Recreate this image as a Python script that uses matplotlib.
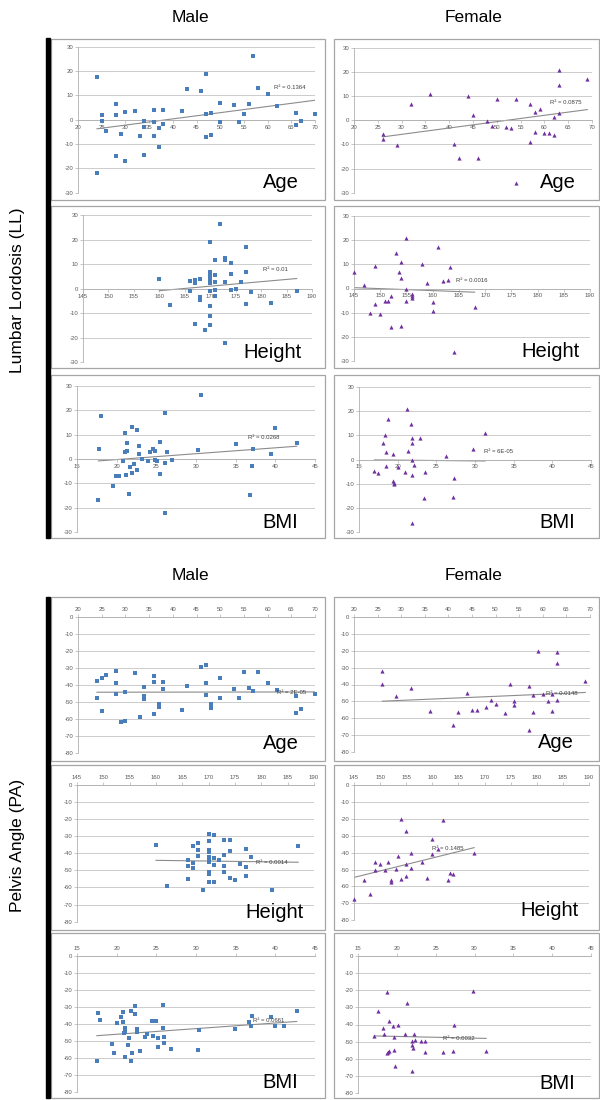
import numpy as np
import matplotlib.pyplot as plt
from matplotlib.patches import Rectangle

plt.rcParams['font.family'] = ['Liberation Sans', 'DejaVu Sans']
plt.rcParams['axes.unicode_minus'] = False

# ---- Lumbar Lordosis (LL) ----
ll_m_age_x = [24, 24, 25, 25, 26, 28, 28, 28, 29, 30, 30, 32, 33, 34, 34, 34, 36, 36, 36, 37, 37, 38, 38,
              42, 43, 46, 47, 47, 47, 48, 48, 50, 50, 53, 54, 55, 56, 57, 58, 60, 62, 66, 66, 67, 70]
ll_m_age_y = [17.5, -21.9, 2.1, -0.4, -4.8, 6.6, 1.8, -14.9, -5.8, 3.0, -17.0, 3.7, -6.7, -0.7, -3.2, -14.4,
              4.0, -0.8, -6.8, -3.3, -11.2, 4.0, -1.6, 3.4, 12.5, 11.6, 18.8, 2.5, -7.1, 2.6, -6.3, 6.8, -1.0,
              6.0, -1.0, 2.3, 6.6, 26.2, 12.9, 10.5, 5.5, 2.7, -2.3, -0.7, 2.5]

ll_f_age_x = [26, 26, 29, 32, 36, 41, 42, 44, 45, 46, 48, 49, 50, 52, 53, 54, 54, 57, 57, 58, 58, 59, 60,
              61, 62, 62, 63, 63, 63, 69]
ll_f_age_y = [-5.5, -7.9, -10.4, 6.9, 10.9, -10.0, -15.8, 10.0, 2.2, -15.5, -0.4, -2.4, 8.7, -2.9, -3.2,
              8.7, -26.0, 6.8, -9.0, 3.5, -5.0, 4.6, -5.1, -5.1, 1.4, -6.2, 20.9, 14.7, 2.9, 17.0]

ll_m_ht_x = [160, 162, 166, 166, 167, 167, 167, 168, 168, 168, 169, 170, 170, 170, 170, 170, 170, 170, 170,
             170, 170, 171, 171, 171, 171, 171, 172, 173, 173, 173, 173, 174, 174, 174, 175, 176, 177, 177,
             177, 178, 182, 187]
ll_m_ht_y = [3.8, -6.7, 3.0, -0.8, 3.6, 2.2, -14.5, 4.0, -3.3, -4.6, -16.9, 19.0, 6.7, 5.7, 4.6, 3.4, 2.3,
             -0.8, -7.0, -11.2, -15.0, 11.7, 5.6, 2.9, -0.7, -3.0, 26.3, 12.4, 11.7, 2.7, -22.2, 10.6, 6.0,
             -0.5, -0.3, 2.6, 17.0, 7.0, -6.3, -1.5, -5.7, -0.8]

ll_f_ht_x = [145, 147, 148, 149, 149, 150, 151, 151.4, 152, 152, 153, 153.5, 154, 154, 154, 155, 155, 155,
             156, 156, 156, 158, 159, 160, 160, 161, 162, 163, 163.3, 164, 168]
ll_f_ht_y = [6.7, 1.5, -9.9, 9.1, -6.3, -10.6, -5.1, -5.2, -3.0, -15.7, 14.7, 7.0, 11.0, 4.4, -15.4, 20.9,
             -0.1, -5.0, -2.3, -3.2, -4.0, 9.9, 2.2, -5.6, -9.1, 17.0, 2.9, 3.4, 8.8, -26.3, -7.8]

ll_m_bmi_x = [17.8, 18.0, 17.7, 19.5, 19.9, 20.3, 20.8, 21.0, 21.0, 21.2, 21.3, 21.3, 21.7, 21.9, 21.9, 22.2,
              22.5, 22.6, 22.8, 22.8, 23.2, 21.6, 23.9, 24.2, 24.6, 24.8, 24.8, 25.1, 25.4, 25.4, 26.1, 26.1,
              26.1, 26.3, 27.0, 30.3, 30.6, 35.0, 37.0, 36.8, 37.2, 39.5, 40.0, 42.7]
ll_m_bmi_y = [4.0, 17.7, -16.8, -11.1, -6.8, -7.0, -0.7, 10.7, 2.7, -6.6, 6.7, 3.1, -3.2, 13.0, -5.6, -2.2,
              11.8, -4.5, 5.5, 1.9, -0.1, -14.4, -0.7, 2.7, 4.1, 3.2, -0.5, -0.8, 6.8, -6.3, 18.9, -1.5,
              -22.0, 2.7, -0.4, 3.6, 26.4, 6.2, -3.0, -14.8, 4.0, 2.2, 12.6, 6.6]

ll_f_bmi_x = [17.0, 17.5, 18.1, 18.3, 18.5, 18.5, 18.8, 19.4, 19.4, 19.5, 19.5, 20.0, 20.9, 21.2, 21.4, 21.7,
              21.8, 21.9, 21.9, 21.9, 22.1, 21.8, 22.9, 23.4, 23.5, 26.3, 27.1, 27.3, 29.7, 31.3]
ll_f_bmi_y = [-4.8, -5.5, 7.0, 9.9, 3.0, -2.7, 16.8, 2.2, -8.8, -10.2, -9.5, -3.2, -5.2, 20.7, 3.4, 14.6,
              6.9, 8.7, 0.0, -6.2, -2.3, -26.0, 8.7, -15.7, -5.1, 1.5, -15.3, -7.7, 4.4, 11.0]

# ---- Pelvis Angle (PA) ----
pa_m_age_x = ll_m_age_x
pa_m_age_y = [-37.6, -47.6, -35.8, -55.6, -34.0, -32.1, -38.7, -45.2, -61.6, -44.0, -61.3, -33.2, -59.1,
              -41.3, -46.4, -48.3, -35.0, -38.4, -57.1, -51.1, -52.8, -38.4, -42.5, -55.0, -40.9, -29.7,
              -28.6, -39.1, -46.2, -51.1, -53.8, -36.0, -47.9, -42.7, -47.7, -32.7, -42.0, -43.4, -32.3,
              -38.7, -43.0, -46.8, -56.8, -54.4, -45.6]

pa_f_age_x = ll_f_age_x
pa_f_age_y = [-32.1, -39.9, -47.0, -41.9, -55.8, -64.3, -56.2, -45.2, -55.2, -55.2, -53.6, -49.2, -51.6,
              -56.9, -39.9, -49.8, -52.4, -40.7, -67.3, -46.2, -56.2, -19.8, -45.8, -49.8, -45.6, -56.0,
              -20.6, -27.4, -49.2, -37.9]

pa_m_ht_x = [160, 162, 166, 166, 166, 167, 167, 167, 168, 168, 168, 169, 170, 170, 170, 170, 170, 170, 170,
             170, 170, 170, 171, 171, 171, 171, 172, 173, 173, 173, 173, 174, 174, 174, 175, 176, 177, 177,
             177, 178, 182, 187]
pa_m_ht_y = [-35.2, -59.0, -44.2, -47.7, -55.0, -36.0, -45.5, -48.4, -34.2, -38.3, -41.4, -61.3, -28.6,
             -32.9, -38.1, -39.3, -42.4, -44.4, -45.3, -51.0, -52.3, -57.0, -29.6, -42.6, -46.7, -56.8,
             -43.8, -32.5, -40.9, -47.5, -51.2, -32.1, -38.7, -54.5, -55.4, -46.1, -37.5, -47.9, -53.5,
             -42.2, -61.7, -36.0]

pa_f_ht_x = [145, 147, 148, 149, 149, 150, 151, 151.5, 152, 152, 153, 153.5, 154, 154, 155, 155, 155, 156,
             156, 158, 159, 160, 160, 161, 162, 163, 163.3, 164, 168]
pa_f_ht_y = [-67.4, -56.0, -64.4, -45.5, -50.0, -46.9, -50.0, -45.7, -56.0, -57.1, -49.5, -42.0, -20.1,
             -55.4, -27.4, -46.5, -53.6, -40.0, -49.3, -45.3, -55.0, -32.1, -41.0, -38.0, -20.9, -56.4,
             -51.8, -52.4, -40.0]

pa_m_bmi_x = [17.5, 17.7, 17.9, 19.4, 19.7, 20.1, 20.6, 20.8, 20.8, 20.9, 21.0, 21.1, 21.1, 21.1, 21.4,
              21.5, 21.8, 21.8, 21.9, 22.3, 22.3, 22.5, 22.5, 22.9, 23.6, 23.8, 24.5, 24.6, 24.9, 25.2,
              25.2, 25.9, 25.9, 26.0, 26.0, 26.8, 30.2, 30.4, 34.9, 36.7, 36.9, 37.1, 39.5, 40.0, 41.1, 42.7]
pa_m_bmi_y = [-61.8, -33.5, -37.8, -51.8, -57.5, -39.6, -36.3, -32.9, -39.2, -45.7, -59.6, -42.4, -43.7,
              -45.1, -52.7, -48.4, -32.4, -61.8, -57.3, -29.8, -34.3, -43.1, -45.1, -55.9, -47.8, -46.3,
              -38.4, -47.1, -38.4, -48.2, -53.9, -28.8, -42.7, -47.6, -51.4, -54.7, -55.3, -43.5, -42.9,
              -39.2, -41.6, -35.5, -36.3, -41.2, -41.4, -32.4]

pa_f_bmi_x = [17.1, 17.6, 18.2, 18.4, 18.7, 18.8, 18.7, 19.0, 19.0, 19.5, 19.6, 19.6, 19.7, 20.2, 21.0,
              21.3, 21.9, 22.0, 22.1, 22.0, 22.2, 22.3, 23.1, 23.6, 23.6, 25.9, 27.2, 27.4, 29.8, 31.5]
pa_f_bmi_y = [-46.7, -32.2, -42.0, -45.3, -56.8, -56.0, -21.1, -38.2, -55.6, -40.9, -47.1, -54.8, -64.1,
              -40.1, -45.5, -27.7, -49.4, -52.1, -53.5, -67.0, -45.3, -49.2, -49.8, -49.8, -55.8, -55.8,
              -55.2, -40.1, -20.3, -55.6]

r2_text = ['0.1364', '0.0875', '0.01', '0.0016', '0.0268', '6E-05',
           '2E-05', '0.0148', '0.0014', '0.1485', '0.0661', '0.0032']
names = ['Age', 'Age', 'Height', 'Height', 'BMI', 'BMI'] * 2

W, H = 600, 1100
fig = plt.figure(figsize=(6, 11), dpi=100)


def fbox(x0, x1, ytop, ybot):
    return [x0 / W, 1 - ybot / H, (x1 - x0) / W, (ybot - ytop) / H]


male_c = '#4a7ebb'
female_c = '#7030a0'

# frames around each Excel chart
cols = [(51, 325), (334, 599)]
rows = [(39, 200), (206, 368), (375, 538), (597, 761), (765, 930), (933, 1098)]
for (y0, y1) in rows:
    for (x0, x1) in cols:
        fig.patches.append(Rectangle((x0 / W, 1 - y1 / H), (x1 - x0) / W, (y1 - y0) / H,
                                     transform=fig.transFigure, fill=False, ec='#a6a6a6', lw=0.9))

# black bars
for (y0, y1) in [(38, 538), (597, 1098)]:
    fig.patches.append(Rectangle((46 / W, 1 - y1 / H), 4 / W, (y1 - y0) / H,
                                 transform=fig.transFigure, color='black'))

for yy in [18, 575]:
    fig.text(190 / W, 1 - yy / H, 'Male', ha='center', va='center', fontsize=12.5)
    fig.text(474 / W, 1 - yy / H, 'Female', ha='center', va='center', fontsize=12.5)
fig.text(18 / W, 1 - 290 / H, 'Lumbar Lordosis (LL)', rotation=90, ha='center', va='center', fontsize=12.5)
fig.text(18 / W, 1 - 845 / H, 'Pelvis Angle (PA)', rotation=90, ha='center', va='center', fontsize=12.5)

panels = [
    (ll_m_age_x, ll_m_age_y, True, (20, 70), (78, 315, 46.7, 192.7), (61.3, 13.4)),
    (ll_f_age_x, ll_f_age_y, False, (20, 70), (354, 592, 48, 192.7), (61.1, 7.6)),
    (ll_m_ht_x, ll_m_ht_y, True, (145, 190), (83, 312, 215.3, 362), (180.3, 7.9)),
    (ll_f_ht_x, ll_f_ht_y, False, (145, 190), (354, 590, 215.7, 361.3), (164.5, 3.2)),
    (ll_m_bmi_x, ll_m_bmi_y, True, (15, 45), (77, 315, 386, 532), (36.6, 8.9)),
    (ll_f_bmi_x, ll_f_bmi_y, False, (15, 45), (359, 591, 386.7, 532.3), (31.2, 3.2)),
    (pa_m_age_x, pa_m_age_y, True, (20, 70), (78, 315, 616.7, 753), (61.9, -44.6)),
    (pa_f_age_x, pa_f_age_y, False, (20, 70), (354, 590, 617.3, 751.7), (60.7, -45.2)),
    (pa_m_ht_x, pa_m_ht_y, True, (145, 190), (77, 314, 784.7, 921.7), (178.9, -45.3)),
    (pa_f_ht_x, pa_f_ht_y, False, (145, 190), (354, 589, 785, 920.3), (159.9, -37.8)),
    (pa_m_bmi_x, pa_m_bmi_y, True, (15, 45), (77, 315, 955.7, 1091.7), (37.2, -38.2)),
    (pa_f_bmi_x, pa_f_bmi_y, False, (15, 45), (358, 591, 955.7, 1093.3), (26.0, -48.1)),
]
name_pos = {'Age': 0.93, 'Height': 0.955, 'BMI': 0.93}

for i, (x, y, male, xlim, pos, r2xy) in enumerate(panels):
    pa = i >= 6
    ylim = (-80, 0) if pa else (-30, 30)
    ax = fig.add_axes(fbox(*pos))
    ax.set_xlim(xlim)
    ax.set_ylim(ylim)
    ax.set_xticks(np.arange(xlim[0], xlim[1] + 1, 5))
    ax.set_yticks(np.arange(ylim[0], ylim[1] + 1, 10))
    ax.grid(axis='y', color='#c4c4c4', lw=0.6)
    ax.set_axisbelow(True)
    for s in ['right', 'top', 'bottom']:
        ax.spines[s].set_visible(False)
    ax.spines['left'].set_color('#b0b0b0')
    ax.spines['left'].set_linewidth(0.6)
    if pa:
        ax.xaxis.tick_top()
        ax.spines['top'].set_visible(True)
        sp = ax.spines['top']
    else:
        ax.spines['bottom'].set_visible(True)
        ax.spines['bottom'].set_position(('data', 0))
        sp = ax.spines['bottom']
    sp.set_color('#b0b0b0')
    sp.set_linewidth(0.6)
    ax.tick_params(labelsize=4.3, labelcolor='#595959', color='#b0b0b0', length=2, width=0.5, pad=1.5)

    if male:
        ax.scatter(x, y, marker='s', s=7, color=male_c, lw=0, clip_on=False, zorder=3)
    else:
        ax.scatter(x, y, marker='^', s=9, color=female_c, lw=0, clip_on=False, zorder=3)

    k, b = np.polyfit(x, y, 1)
    xs = np.array([min(x), max(x)])
    ax.plot(xs, k * xs + b, color='#8c8c8c', lw=0.8, zorder=2)
    ax.text(r2xy[0], r2xy[1], 'R² = ' + r2_text[i], fontsize=4.3, color='#404040', va='center', zorder=4)
    ax.text(name_pos[names[i]], 0.03, names[i], transform=ax.transAxes, ha='right', va='baseline',
            fontsize=14.5)

plt.savefig('out.png', dpi=100)
